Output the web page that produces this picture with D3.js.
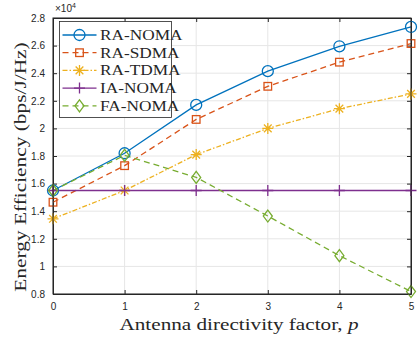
<!DOCTYPE html>
<html lang="en">
<head>
  <meta charset="UTF-8">
  <title>Energy Efficiency vs Antenna directivity</title>
  <style>
    body { margin: 0; background: #fff; }
    svg { display: block; }
    .tick text { font-family: "Liberation Sans", Arial, sans-serif; font-size: 10px; fill: #262626; }
    .serif { font-family: "Liberation Serif", "DejaVu Serif", serif; fill: #262626; }
  </style>
  <script src="https://d3js.org/d3.v7.min.js"></script>
</head>
<body>
<div id="chart"></div>
<script>
// data (values in units of 1e4 bps/J/Hz)
const pValues = [0, 1, 2, 3, 4, 5];
const raNoma  = [1.55, 1.82, 2.17, 2.415, 2.595, 2.735];
const raSdma  = [1.465, 1.73, 2.065, 2.305, 2.48, 2.615];
const raTdma  = [1.345, 1.55, 1.81, 2.0, 2.143, 2.25];
const iaNoma  = [1.55, 1.55, 1.55, 1.55, 1.55, 1.55];
const faNoma  = [1.55, 1.805, 1.645, 1.365, 1.078, 0.818];
const seriesNames = ['RA-NOMA', 'RA-SDMA', 'RA-TDMA', 'IA-NOMA', 'FA-NOMA'];
const xTicks = [0, 1, 2, 3, 4, 5];
const yTicks = [0.8, 1, 1.2, 1.4, 1.6, 1.8, 2, 2.2, 2.4, 2.6, 2.8];

const series = [
  { name: seriesNames[0], values: raNoma, color: '#0072BD', dash: null,       marker: 'circle' },
  { name: seriesNames[1], values: raSdma, color: '#D95319', dash: '6,4',      marker: 'square' },
  { name: seriesNames[2], values: raTdma, color: '#EDB120', dash: '5,2,1.5,2', marker: 'star' },
  { name: seriesNames[3], values: iaNoma, color: '#7E2F8E', dash: null,       marker: 'plus' },
  { name: seriesNames[4], values: faNoma, color: '#77AC30', dash: '6,4',      marker: 'diamond' }
];

const W = 419, H = 339;
const m = { l: 53, t: 18, r: 8, b: 45 };
const svg = d3.select('#chart').append('svg').attr('width', W).attr('height', H);

const x = d3.scaleLinear().domain([0, 5]).range([m.l, W - m.r]);
const y = d3.scaleLinear().domain([0.8, 2.8]).range([H - m.b, m.t]);

// stretch serif text a bit, the original used a wider (Computer Modern) face
function widen(sel, k) {
  sel.each(function () {
    const w = this.getComputedTextLength();
    d3.select(this).attr('textLength', w * k).attr('lengthAdjust', 'spacingAndGlyphs');
  });
}

// grid
svg.append('g').selectAll('line').data(xTicks).join('line')
  .attr('x1', d => x(d)).attr('x2', d => x(d))
  .attr('y1', y(0.8)).attr('y2', y(2.8))
  .attr('stroke', '#e6e6e6').attr('stroke-width', 1);
svg.append('g').selectAll('line').data(yTicks).join('line')
  .attr('x1', x(0)).attr('x2', x(5))
  .attr('y1', d => y(d)).attr('y2', d => y(d))
  .attr('stroke', '#e6e6e6').attr('stroke-width', 1);

// axes (ticks inward)
const axCol = '#262626';
function styleAxis(g) {
  g.select('.domain').attr('stroke', axCol);
  g.selectAll('.tick line').attr('stroke', axCol);
}
svg.append('g').attr('transform', `translate(0,${y(0.8)})`)
  .call(d3.axisBottom(x).tickValues(xTicks).tickSizeInner(-4).tickSizeOuter(0).tickPadding(9).tickFormat(d3.format('d')))
  .call(styleAxis);
svg.append('g').attr('transform', `translate(0,${y(2.8)})`)
  .call(d3.axisTop(x).tickValues(xTicks).tickSizeInner(-4).tickSizeOuter(0).tickFormat(''))
  .call(styleAxis);
svg.append('g').attr('transform', `translate(${x(0)},0)`)
  .call(d3.axisLeft(y).tickValues(yTicks).tickSizeInner(-4).tickSizeOuter(0).tickPadding(8).tickFormat(d => d3.format('~g')(d)))
  .call(styleAxis);
svg.append('g').attr('transform', `translate(${x(5)},0)`)
  .call(d3.axisRight(y).tickValues(yTicks).tickSizeInner(-4).tickSizeOuter(0).tickFormat(''))
  .call(styleAxis);

// exponent label
const ex = svg.append('text').attr('x', x(0) + 2).attr('y', 12)
  .attr('font-family', 'Liberation Sans, Arial, sans-serif').attr('font-size', 10).attr('fill', axCol);
ex.append('tspan').text('×10');
ex.append('tspan').attr('dy', -4).attr('font-size', 7).text('4');

// lines
const line = d3.line().x((d, i) => x(pValues[i])).y(d => y(d));
series.forEach(s => {
  svg.append('path').datum(s.values)
    .attr('d', line)
    .attr('fill', 'none')
    .attr('stroke', s.color)
    .attr('stroke-width', 1.3)
    .attr('stroke-dasharray', s.dash);
});

function drawMarker(g, type, cx, cy, color) {
  if (type === 'circle') {
    g.append('circle').attr('cx', cx).attr('cy', cy).attr('r', 5.5)
      .attr('fill', 'none').attr('stroke', color).attr('stroke-width', 1.3);
  } else if (type === 'square') {
    g.append('rect').attr('x', cx - 3.8).attr('y', cy - 3.8).attr('width', 7.6).attr('height', 7.6)
      .attr('fill', 'none').attr('stroke', color).attr('stroke-width', 1.3);
  } else if (type === 'diamond') {
    const r = 6;
    g.append('path').attr('d', `M${cx},${cy - r}L${cx + r * 0.75},${cy}L${cx},${cy + r}L${cx - r * 0.75},${cy}Z`)
      .attr('fill', 'none').attr('stroke', color).attr('stroke-width', 1.3);
  } else if (type === 'plus') {
    const r = 5.5;
    g.append('path').attr('d', `M${cx - r},${cy}H${cx + r}M${cx},${cy - r}V${cy + r}`)
      .attr('stroke', color).attr('stroke-width', 1.3);
  } else if (type === 'star') {
    const r = 5.5, d = r * 0.7;
    g.append('path').attr('d', `M${cx - r},${cy}H${cx + r}M${cx},${cy - r}V${cy + r}M${cx - d},${cy - d}L${cx + d},${cy + d}M${cx - d},${cy + d}L${cx + d},${cy - d}`)
      .attr('stroke', color).attr('stroke-width', 1.3);
  }
}

series.forEach(s => {
  const g = svg.append('g');
  s.values.forEach((v, i) => drawMarker(g, s.marker, x(pValues[i]), y(v), s.color));
});

// box border on top of everything
svg.append('rect').attr('x', x(0)).attr('y', y(2.8))
  .attr('width', x(5) - x(0)).attr('height', y(0.8) - y(2.8))
  .attr('fill', 'none').attr('stroke', axCol).attr('stroke-width', 1);

// legend
const lg = svg.append('g').attr('transform', 'translate(59.5,21.5)');
lg.append('rect').attr('width', 112).attr('height', 96)
  .attr('fill', '#fff').attr('stroke', axCol).attr('stroke-width', 0.8);
series.forEach((s, i) => {
  const yy = 13.5 + i * 17.7;
  lg.append('line').attr('x1', 3).attr('x2', 37).attr('y1', yy).attr('y2', yy)
    .attr('stroke', s.color).attr('stroke-width', 1.3).attr('stroke-dasharray', s.dash);
  drawMarker(lg, s.marker, 20, yy, s.color);
  lg.append('text').attr('class', 'serif').attr('x', 40.5).attr('y', yy + 5)
    .attr('font-size', 14.5).text(s.name)
    .call(widen, 1.19);
});

// axis titles
const xl = svg.append('text').attr('class', 'serif').attr('x', 239).attr('y', 330)
  .attr('text-anchor', 'middle').attr('font-size', 17.5);
xl.append('tspan').text('Antenna directivity factor, ');
xl.append('tspan').attr('font-style', 'italic').text('p');
widen(xl, 1.21);

svg.append('text').attr('class', 'serif')
  .attr('transform', `translate(26,${(m.t + H - m.b) / 2 + 11}) rotate(-90)`)
  .attr('text-anchor', 'middle').attr('font-size', 17.5)
  .text('Energy Efficiency (bps/J/Hz)')
  .call(widen, 1.22);
</script>
</body>
</html>
